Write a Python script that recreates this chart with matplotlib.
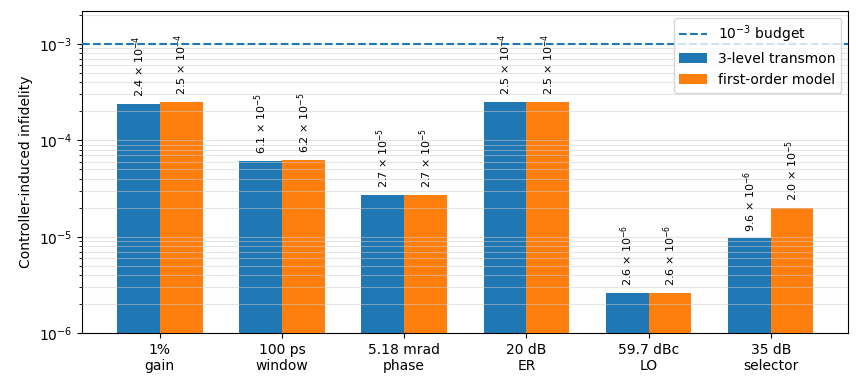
import numpy as np
import matplotlib.pyplot as plt

categories = ['1%\ngain', '100 ps\nwindow', '5.18 mrad\nphase', '20 dB\nER', '59.7 dBc\nLO', '35 dB\nselector']
transmon = [2.4e-4, 6.1e-5, 2.7e-5, 2.5e-4, 2.6e-6, 9.6e-6]
first_order = [2.5e-4, 6.2e-5, 2.7e-5, 2.5e-4, 2.6e-6, 2.0e-5]
budget = 1e-3


def sci_label(v):
    exp = int(np.floor(np.log10(v)))
    mant = v / 10**exp
    return f'{mant:.1f} × $10^{{{exp}}}$'


fig, ax = plt.subplots(figsize=(8.56, 3.82), dpi=100)
x = np.arange(len(categories))
w = 0.35

b1 = ax.bar(x - w/2, transmon, w, color='#1f77b4', label='3-level transmon', zorder=2)
b2 = ax.bar(x + w/2, first_order, w, color='#ff7f0e', label='first-order model', zorder=2)
ax.axhline(budget, color='#1f77b4', linestyle='--', linewidth=1.5, label=r'$10^{-3}$ budget', zorder=4)

for bars, vals in ((b1, transmon), (b2, first_order)):
    for rect, v in zip(bars, vals):
        ax.annotate(sci_label(v), (rect.get_x() + rect.get_width()/2, v),
                    xytext=(0, 5), textcoords='offset points',
                    ha='center', va='bottom', rotation=90, fontsize=8)

ax.set_yscale('log')
ax.set_ylim(1e-6, 2.2e-3)
ax.set_xticks(x)
ax.set_xticklabels(categories)
ax.set_ylabel('Controller-induced infidelity')
ax.grid(True, which='both', axis='y', color='#cccccc', linewidth=0.8, alpha=0.5, zorder=3)
ax.set_axisbelow(False)
ax.legend(loc='upper right')

plt.subplots_adjust(left=0.096, right=0.991, top=0.971, bottom=0.128)
plt.savefig('out.png')
